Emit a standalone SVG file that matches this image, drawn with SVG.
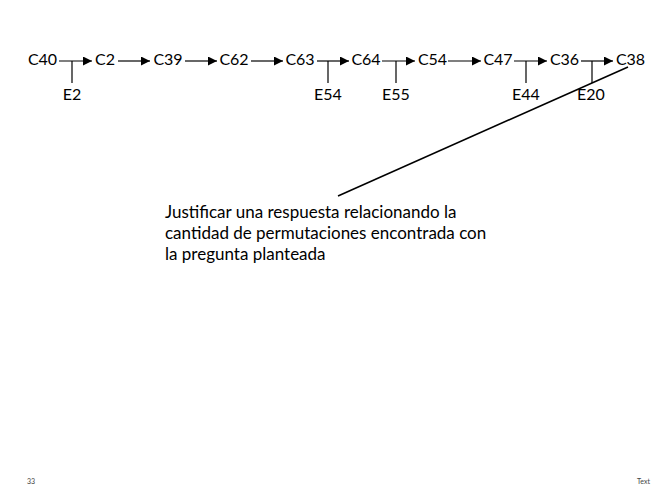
<svg xmlns="http://www.w3.org/2000/svg" width="668" height="504" viewBox="0 0 668 504">
<defs>
<style>
.n{font-family:Lato,"Open Sans","DejaVu Sans",sans-serif;font-size:16px;fill:#000;text-anchor:middle}
.t{font-family:Lato,"Open Sans","DejaVu Sans",sans-serif;font-size:17px;fill:#000}
.f{font-family:Lato,"Liberation Sans",sans-serif;font-size:7px;fill:#444}
.a{stroke:#000;stroke-width:1.2;fill:none}
</style>
<marker id="ah" viewBox="0 0 10 10" refX="10" refY="5" markerWidth="11" markerHeight="9" markerUnits="userSpaceOnUse" orient="auto">
<path d="M0,0 L10,5 L0,10 z" fill="#000"/>
</marker>
</defs>
<rect width="668" height="504" fill="#fff"/>
<g id="connectors">
<line class="a" x1="59" y1="61" x2="92" y2="61" marker-end="url(#ah)"/>
<line class="a" x1="118" y1="61" x2="150" y2="61" marker-end="url(#ah)"/>
<line class="a" x1="185" y1="61" x2="217" y2="61" marker-end="url(#ah)"/>
<line class="a" x1="251" y1="61" x2="283" y2="61" marker-end="url(#ah)"/>
<line class="a" x1="317" y1="61" x2="349" y2="61" marker-end="url(#ah)"/>
<line class="a" x1="382" y1="61" x2="415" y2="61" marker-end="url(#ah)"/>
<line class="a" x1="448" y1="61" x2="481" y2="61" marker-end="url(#ah)"/>
<line class="a" x1="514" y1="61" x2="547" y2="61" marker-end="url(#ah)"/>
<line class="a" x1="581" y1="61" x2="613" y2="61" marker-end="url(#ah)"/>
<line class="a" x1="72" y1="61" x2="72" y2="83"/>
<line class="a" x1="328" y1="61" x2="328" y2="83"/>
<line class="a" x1="396" y1="61" x2="396" y2="83"/>
<line class="a" x1="526" y1="61" x2="526" y2="83"/>
<line class="a" x1="592" y1="61" x2="592" y2="83"/>
<line stroke="#000" stroke-width="1.6" x1="338" y1="196" x2="628" y2="67"/>
</g>
<g id="C40"><text class="n" x="42.5" y="65">C40</text></g>
<g id="C2"><text class="n" x="105" y="65">C2</text></g>
<g id="C39"><text class="n" x="168" y="65">C39</text></g>
<g id="C62"><text class="n" x="234" y="65">C62</text></g>
<g id="C63"><text class="n" x="300" y="65">C63</text></g>
<g id="C64"><text class="n" x="366" y="65">C64</text></g>
<g id="C54"><text class="n" x="432.5" y="65">C54</text></g>
<g id="C47"><text class="n" x="498" y="65">C47</text></g>
<g id="C36"><text class="n" x="564.5" y="65">C36</text></g>
<g id="C38"><text class="n" x="630.5" y="65">C38</text></g>
<g id="E2"><text class="n" x="72" y="100">E2</text></g>
<g id="E54"><text class="n" x="328" y="100">E54</text></g>
<g id="E55"><text class="n" x="396" y="100">E55</text></g>
<g id="E44"><text class="n" x="526" y="100">E44</text></g>
<g id="E20"><text class="n" x="591" y="100">E20</text></g>
<g id="note">
<text class="t" x="165" y="218">Justificar una respuesta relacionando la</text>
<text class="t" x="165" y="239">cantidad de permutaciones encontrada con</text>
<text class="t" x="165" y="260">la pregunta planteada</text>
</g>
<text class="f" x="27" y="484">33</text>
<text class="f" x="637" y="484">Text</text>
</svg>
